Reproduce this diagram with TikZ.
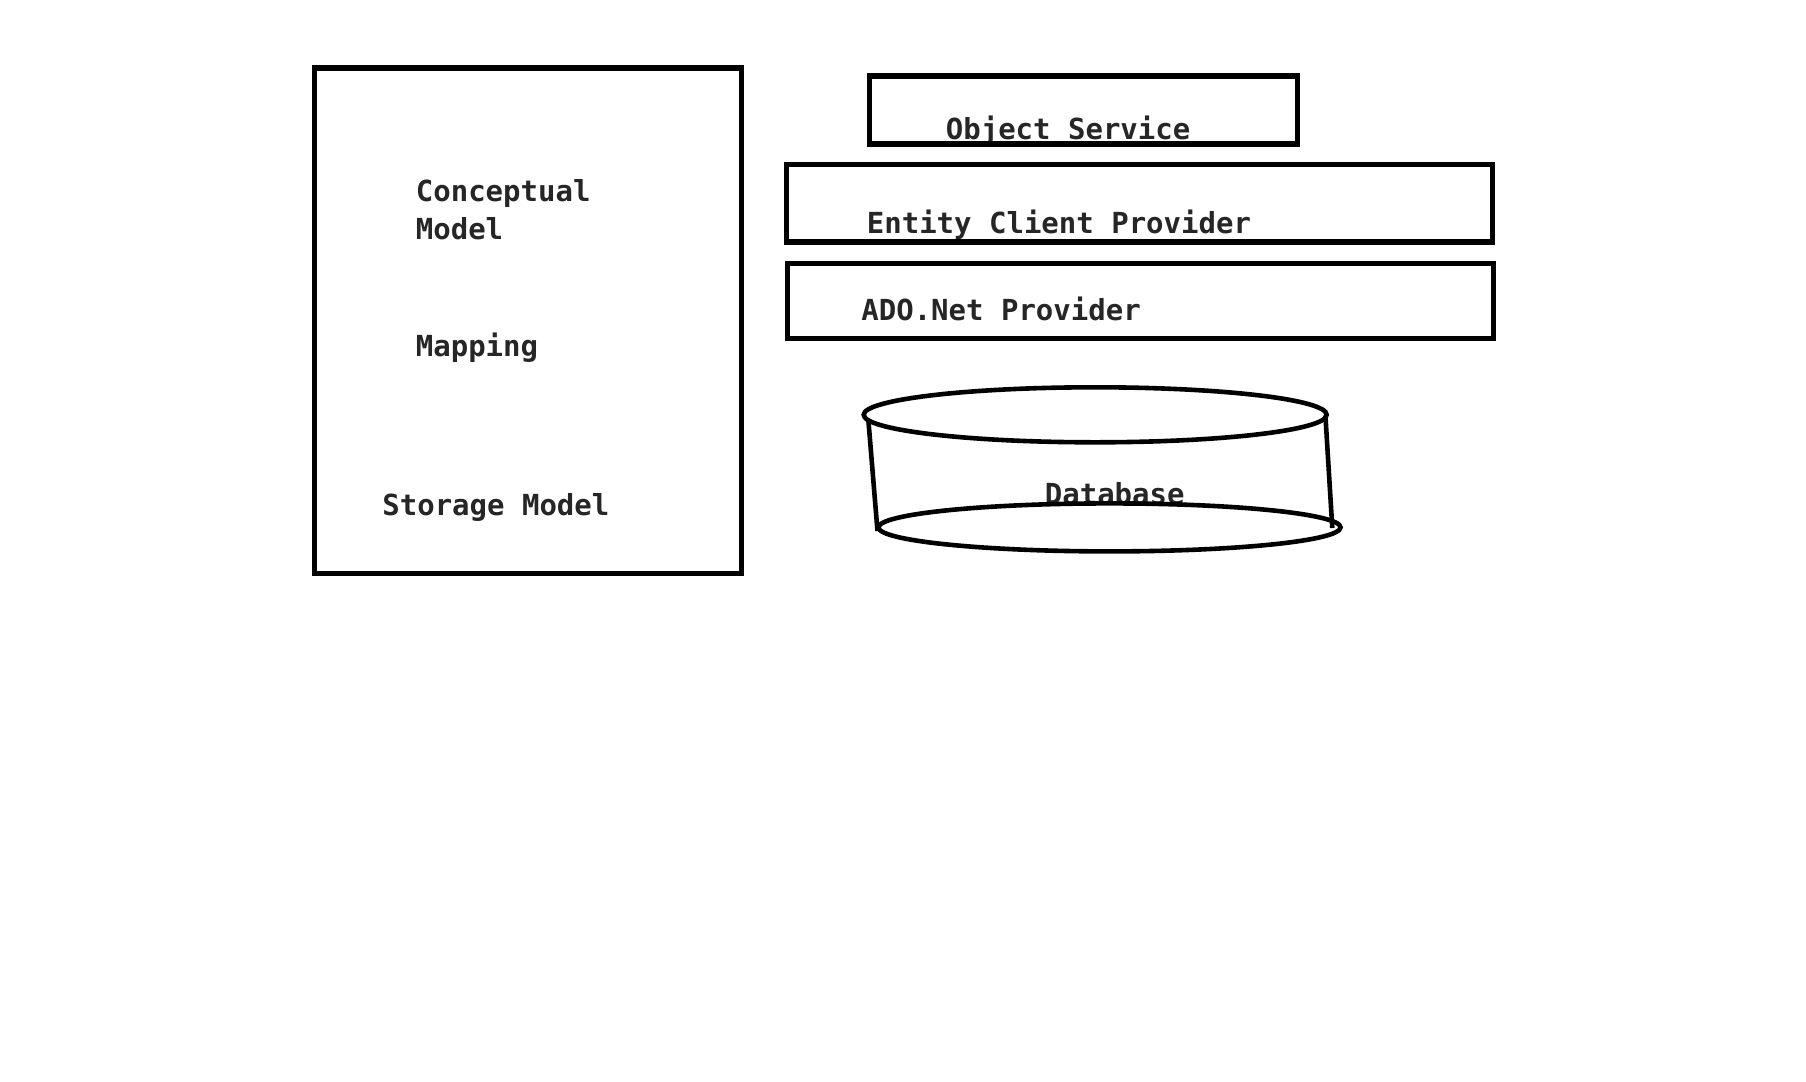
\documentclass[tikz,border=0pt]{standalone}
\usepackage{fontspec}
\setmonofont{DejaVu Sans Mono}
\begin{document}
\begin{tikzpicture}[x=0.5pt,y=-0.5pt,
  box/.style={draw=black,line width=2.6pt,rectangle,inner sep=0pt},
  lbl/.style={anchor=base west,inner sep=0pt,text=black!85,font=\fontsize{14.5pt}{19pt}\selectfont\ttfamily\bfseries},
  cyl/.style={draw=black,line width=2.3pt}]
\useasboundingbox[fill=white] (0,0) rectangle (1806,1082);
% left box
\node[box,minimum width=213.6pt,minimum height=252.8pt] (edm) at (528,320.7) {};
\node[lbl] (concept) at (415.5,201.7) {Conceptual};
\node[lbl] (model) at (415.5,239.7) {Model};
\node[lbl] (mapping) at (415.5,356.2) {Mapping};
\node[lbl] (storage) at (382,515.2) {Storage Model};
% layered boxes
\node[lbl] (ostext) at (945.5,139.7) {Object Service};
\node[box,minimum width=214.2pt,minimum height=34pt] (os) at (1083.6,110) {};
\node[box,minimum width=353pt,minimum height=38.6pt] (ecp) at (1139.5,203.3) {};
\node[lbl] (ecptext) at (866.5,233.7) {Entity Client Provider};
\node[box,minimum width=353pt,minimum height=37.4pt] (ado) at (1140.6,301.1) {};
\node[lbl] (adotext) at (861,320.2) {ADO.Net Provider};
% database cylinder
\node[lbl] (dbtext) at (1044.5,504.7) {Database};
\coordinate (dbtop) at (1095.2,414.8);
\coordinate (dbbot) at (1109.5,527.4);
\draw[cyl] (dbtop) ellipse [x radius=231.5,y radius=27.5];
\draw[cyl] (dbbot) ellipse [x radius=231,y radius=24];
\coordinate (tl) at (868.3,419.2);
\coordinate (bl) at (877.5,531);
\coordinate (tr) at (1325.4,415.5);
\coordinate (br) at (1332.3,528);
\draw[cyl] (tl) -- (bl);
\draw[cyl] (tr) -- (br);
\end{tikzpicture}
\end{document}
